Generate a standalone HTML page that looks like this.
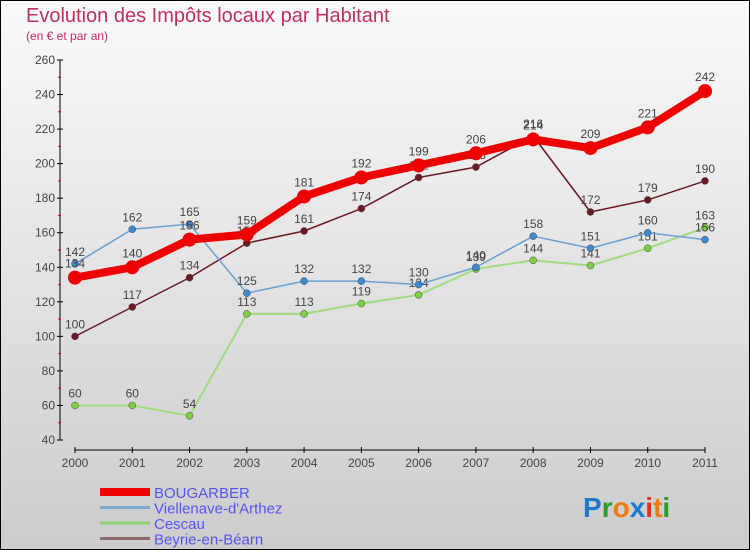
<!DOCTYPE html>
<html><head><meta charset="utf-8"><style>
body{margin:0}
#wrap{width:750px;height:550px;position:relative;overflow:hidden;font-family:"Liberation Sans",sans-serif}
</style></head><body>
<div id="wrap">
<svg id="chart" width="750" height="550" xmlns="http://www.w3.org/2000/svg">
<defs><linearGradient id="bg" x1="0" y1="0" x2="0" y2="1"><stop offset="0" stop-color="#fafafa"/><stop offset="1" stop-color="#cccccc"/></linearGradient></defs>
<rect x="0.5" y="0.5" width="749" height="549" fill="url(#bg)" stroke="#000"/>
<text x="26" y="22" font-size="20" fill="#c0305a">Evolution des Impôts locaux par Habitant</text>
<text x="26" y="40" font-size="12" fill="#c0305a">(en € et par an)</text>
<g id="axes"></g><g id="series"></g><g id="legend"></g>
<text x="583" y="517" font-size="28" font-weight="bold" fill="#1a7ad0">P<tspan fill="#2a9a2a">r</tspan><tspan fill="#f07a10">o</tspan><tspan fill="#1a7ad0">x</tspan><tspan fill="#e03020">i</tspan><tspan fill="#f07a10">t</tspan><tspan fill="#2a9a2a">i</tspan></text>
</svg>
</div>
<script>
const years=["2000","2001","2002","2003","2004","2005","2006","2007","2008","2009","2010","2011"];
const yTicks=[40,60,80,100,120,140,160,180,200,220,240,260];
const bougarber=[134,140,156,159,181,192,199,206,214,209,221,242];
const viellenave=[142,162,165,125,132,132,130,140,158,151,160,156];
const cescau=[60,60,54,113,113,119,124,139,144,141,151,163];
const beyrie=[100,117,134,154,161,174,192,198,216,172,179,190];
const NS="http://www.w3.org/2000/svg";
function X(i){return 75+i*(630/11);}
function Y(v){return 440-(v-40)*(380/220);}
function mk(t,a,p){const e=document.createElementNS(NS,t);for(const k in a)e.setAttribute(k,a[k]);p.appendChild(e);return e;}
const ax=document.getElementById('axes');
let yl=mk('line',{x1:60,y1:60,x2:60,y2:440,stroke:'#000'},ax);

let xl=mk('line',{x1:75,y1:450,x2:705,y2:450,stroke:'#000'},ax);

yTicks.forEach((v,i)=>{
 mk('line',{x1:57,y1:Y(v),x2:63,y2:Y(v),stroke:'#000'},ax);
 if(i<yTicks.length-1)mk('line',{x1:58,y1:Y(v+10),x2:61,y2:Y(v+10),stroke:'#e00000'},ax);
 const t=mk('text',{x:55,y:Y(v)+4,'font-size':12,fill:'#444','text-anchor':'end'},ax);t.textContent=v;
 
});
years.forEach((y,i)=>{
 mk('line',{x1:X(i),y1:447,x2:X(i),y2:453,stroke:'#000'},ax);
 const t=mk('text',{x:X(i),y:467,'font-size':12,fill:'#444','text-anchor':'middle'},ax);t.textContent=y;
 
});
const sg=document.getElementById('series');
const defs=[
 {n:'beyrie-en-bearn',d:beyrie,c:'#6b1a22',w:1.5,r:3.5,f:'#6b1a22',lc:'#8a6a6a'},
 {n:'cescau',d:cescau,c:'#a0dc80',w:2,r:3.5,f:'#7ed040',lc:'#90d070'},
 {n:'viellenave-d-arthez',d:viellenave,c:'#6aa0d0',w:1.5,r:3.5,f:'#3a8ad0',lc:'#80a8c8'},
 {n:'bougarber',d:bougarber,c:'#ee0000',w:8,r:7,f:'#ee0000',lc:'#ee0000'}
];
defs.forEach(s=>{
 const g=mk('g',{},sg);
 const p=mk('polyline',{points:s.d.map((v,i)=>X(i)+','+Y(v)).join(' '),fill:'none',stroke:s.c,'stroke-width':s.w,'stroke-linejoin':'round'},g);
 
 s.d.forEach((v,i)=>{
  const c=mk('circle',{cx:X(i),cy:Y(v),r:s.r,fill:s.f,stroke:s.w>4?'none':'#444','stroke-width':0.5},g);
  
  const t=mk('text',{x:X(i),y:Y(v)-(s.w>4?10:8),'font-size':12,fill:'#444','text-anchor':'middle'},g);t.textContent=v;
  
 });
});
const lg=document.getElementById('legend');
const leg=[['BOUGARBER','#ee0000',8,'bougarber'],["Viellenave-d'Arthez",'#80a8c8',3,'viellenave-d-arthez'],['Cescau','#90d070',3,'cescau'],['Beyrie-en-Béarn','#8a6a6a',3,'beyrie-en-bearn']];
leg.forEach((l,i)=>{
 const y=492+i*15.5;
 const g=mk('g',{},lg);
 mk('line',{x1:100,y1:y,x2:150,y2:y,stroke:l[1],'stroke-width':l[2]},g);
 const t=mk('text',{x:154,y:y+6,'font-size':15,fill:'#5555ee'},g);t.textContent=l[0];
});
</script>
</body></html>
